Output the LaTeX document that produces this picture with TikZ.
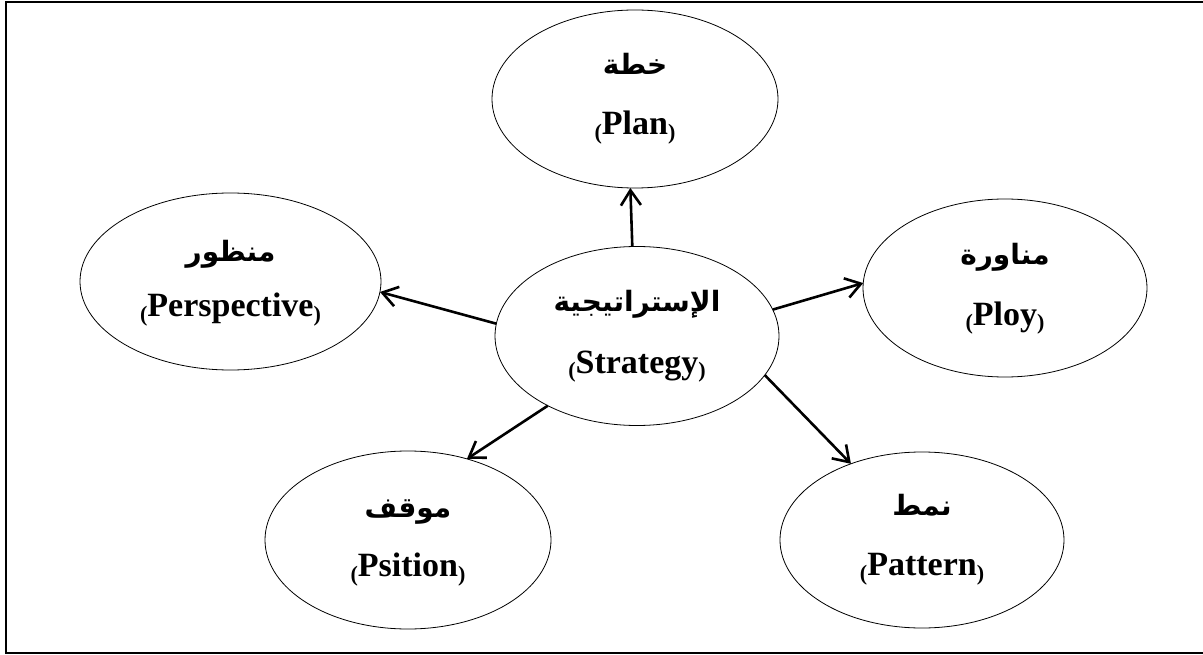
\documentclass[tikz,border=0pt]{standalone}
\usepackage{fontspec}
\usepackage{graphicx}
\setmainfont{Liberation Serif}
\newfontfamily\arabicfont[Script=Arabic]{DejaVu Sans}
\TeXXeTstate=1
\usetikzlibrary{shapes.geometric,arrows.meta}

% small, lowered parentheses around the English term
\newcommand\lpar{\raisebox{-5pt}{\resizebox*{!}{20pt}{(}}}
\newcommand\rpar{\raisebox{-5pt}{\resizebox*{!}{20pt}{)}}}
\newcommand\paren[1]{\lpar#1\rpar}

\tikzset{
  oval/.style={ellipse, draw, line width=0.8pt, inner sep=0pt, outer sep=0pt},
  artext/.style={anchor=base, inner sep=0pt, font=\arabicfont\bfseries\fontsize{28}{28}\selectfont},
  entext/.style={anchor=base, inner sep=0pt, font=\bfseries\fontsize{34}{34}\selectfont},
  link/.style={line width=2.6pt, -{Straight Barb[length=15pt,width=20pt]}},
  frame/.style={line width=2pt}
}

\begin{document}
\begin{tikzpicture}[x=1pt,y=-1pt]
\useasboundingbox (0,0) rectangle (1203,655);

% outer frame (open on the right)
\draw[frame] (1203,2.5) -- (5.5,2.5) -- (5.5,652.5) -- (1203,652.5);

% ellipses
\node[oval, minimum width=286pt, minimum height=178pt] (plan)  at (635,99)    {};
\node[oval, minimum width=284pt, minimum height=179pt] (strat) at (637,336)   {};
\node[oval, minimum width=301pt, minimum height=177pt] (persp) at (230.5,281.5) {};
\node[oval, minimum width=284pt, minimum height=178pt] (ploy)  at (1005,288)  {};
\node[oval, minimum width=286pt, minimum height=178pt] (posn)  at (408,540)   {};
\node[oval, minimum width=284pt, minimum height=176pt] (patt)  at (922,540)   {};

% labels
\node[artext] (planA)  at ([yshift=24pt]plan.center)  {\beginR خطة\endR};
\node[entext] (planE)  at ([yshift=-36pt]plan.center) {\paren{Plan}};
\node[artext] (stratA) at ([yshift=24pt]strat.center)  {\beginR الإستراتيجية\endR};
\node[entext] (stratE) at ([yshift=-37pt]strat.center) {\paren{Strategy}};
\node[artext] (perspA) at ([yshift=20pt]persp.center)  {\beginR منظور\endR};
\node[entext] (perspE) at ([yshift=-35pt]persp.center) {\paren{Perspective}};
\node[artext] (ployA)  at ([yshift=23pt]ploy.center)  {\beginR مناورة\endR};
\node[entext] (ployE)  at ([yshift=-37pt]ploy.center) {\paren{Ploy}};
\node[artext] (posnA)  at ([yshift=23pt]posn.center)  {\beginR موقف\endR};
\node[entext] (posnE)  at ([yshift=-36pt]posn.center) {\paren{Psition}};
\node[artext] (pattA)  at ([yshift=25pt]patt.center)  {\beginR نمط\endR};
\node[entext] (pattE)  at ([yshift=-35pt]patt.center) {\paren{Pattern}};

% connectors
\draw[link] (strat.93)   -- (plan.-93);
\draw[link] (strat.175.6) -- (persp.-4.1);
\draw[link] (strat.11.3) -- (ploy.178.4);
\draw[link] (strat.-142.4) -- (posn.54);
\draw[link] (strat.-17.9) -- (patt.133.5);
\end{tikzpicture}
\end{document}
